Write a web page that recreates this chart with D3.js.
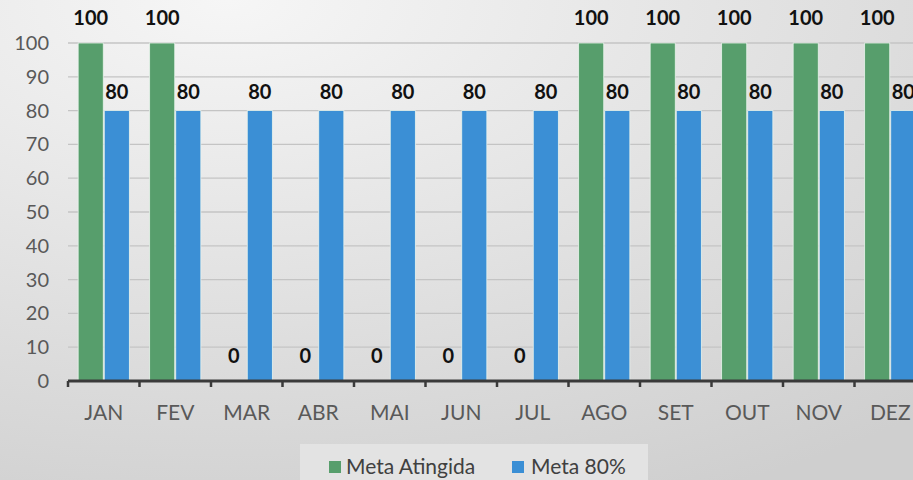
<!DOCTYPE html>
<html>
<head>
<meta charset="utf-8">
<script src="https://cdn.jsdelivr.net/npm/d3@7"></script>
<style>
  html, body { margin: 0; padding: 0; overflow: hidden; }
  svg { display: block; font-family: Lato, "Open Sans", sans-serif; }
</style>
</head>
<body>
<svg id="chart" width="913" height="480"></svg>
<script>
// Monthly results: goal achieved vs. 80% goal
const months = ["JAN", "FEV", "MAR", "ABR", "MAI", "JUN", "JUL", "AGO", "SET", "OUT", "NOV", "DEZ"];
const metaAtingida = [100, 100, 0, 0, 0, 0, 0, 100, 100, 100, 100, 100];
const meta80 = [80, 80, 80, 80, 80, 80, 80, 80, 80, 80, 80, 80];
const seriesNames = ["Meta Atingida", "Meta 80%"];
const yTicks = [0, 10, 20, 30, 40, 50, 60, 70, 80, 90, 100];

const colors = ["#579e6c", "#3b8fd5"];
const labelGap = [18, 12];
const W = 913, H = 480;
const svg = d3.select("#chart");

// background gradient
const defs = svg.append("defs");
const grad = defs.append("radialGradient").attr("id", "bg")
  .attr("cx", "25%").attr("cy", "0%").attr("r", "115%");
grad.append("stop").attr("offset", "0%").attr("stop-color", "#f6f6f6");
grad.append("stop").attr("offset", "100%").attr("stop-color", "#cfcfcf");
svg.append("rect").attr("width", W).attr("height", H).attr("fill", "url(#bg)");

const left = 68, bandW = 71.5;
const x = d3.scaleBand().domain(months).range([left, left + bandW * months.length]).paddingInner(0.27).paddingOuter(0.135);
const x1 = d3.scaleBand().domain([0, 1]).range([0, x.bandwidth()]);
const y = d3.scaleLinear().domain([0, 100]).range([381, 43]);

// gridlines
svg.append("g").selectAll("line").data(yTicks.filter(d => d > 0)).join("line")
  .attr("x1", left).attr("x2", W)
  .attr("y1", d => y(d)).attr("y2", d => y(d))
  .attr("stroke", "#c4c4c4").attr("stroke-width", 1.3);

// y axis labels
const yAxis = d3.axisLeft(y).tickValues(yTicks).tickSize(0).tickPadding(0);
const yg = svg.append("g").attr("transform", "translate(49,0)").call(yAxis);
yg.select(".domain").remove();
yg.selectAll("text").attr("fill", "#595959").attr("font-size", 20)
  .attr("font-family", "Lato, sans-serif");

// bars
const data = months.map((m, i) => ({ m, vals: [metaAtingida[i], meta80[i]] }));
const groups = svg.append("g").selectAll("g").data(data).join("g")
  .attr("transform", d => `translate(${x(d.m)},0)`);

groups.selectAll("rect").data(d => d.vals.map((v, k) => ({ v, k }))).join("rect")
  .attr("x", d => x1(d.k) + 0.5)
  .attr("width", x1.bandwidth() - 1)
  .attr("y", d => y(d.v))
  .attr("height", d => y(0) - y(d.v))
  .attr("fill", d => colors[d.k])
  .attr("stroke", "#e8f3ec").attr("stroke-width", 0.8);

// value labels
groups.selectAll("text").data(d => d.vals.map((v, k) => ({ v, k }))).join("text")
  .attr("x", d => x1(d.k) + x1.bandwidth() / 2)
  .attr("y", d => y(d.v) - labelGap[d.k])
  .attr("text-anchor", "middle")
  .attr("font-size", 20).attr("font-weight", "bold").attr("fill", "#111")
  .text(d => d.v);

// x axis
const xAxis = d3.axisBottom(x).tickSize(0).tickPadding(24);
const xg = svg.append("g").attr("transform", `translate(0,${y(0)})`).call(xAxis);
xg.select(".domain").remove();
xg.selectAll("text").attr("fill", "#595959").attr("font-size", 21)
  .attr("font-family", "Lato, sans-serif");
svg.append("line").attr("x1", left).attr("x2", W).attr("y1", y(0)).attr("y2", y(0))
  .attr("stroke", "#3a3a3a").attr("stroke-width", 3);
// category boundary ticks
svg.append("g").selectAll("line").data(d3.range(months.length + 1)).join("line")
  .attr("x1", i => left + i * bandW).attr("x2", i => left + i * bandW)
  .attr("y1", y(0)).attr("y2", y(0) + 6)
  .attr("stroke", "#3a3a3a").attr("stroke-width", 2.5);

// legend
const lg = svg.append("g");
lg.append("rect").attr("x", 300).attr("y", 444).attr("width", 348).attr("height", 36).attr("fill", "#e3e3e3");
const items = [{ x: 329, tx: 346 }, { x: 512, tx: 531 }];
items.forEach((it, k) => {
  lg.append("rect").attr("x", it.x).attr("y", 461).attr("width", 12).attr("height", 12).attr("fill", colors[k]);
  lg.append("text").attr("x", it.tx).attr("y", 474).attr("font-size", 21)
    .attr("fill", "#404040").text(seriesNames[k]);
});
</script>
</body>
</html>
